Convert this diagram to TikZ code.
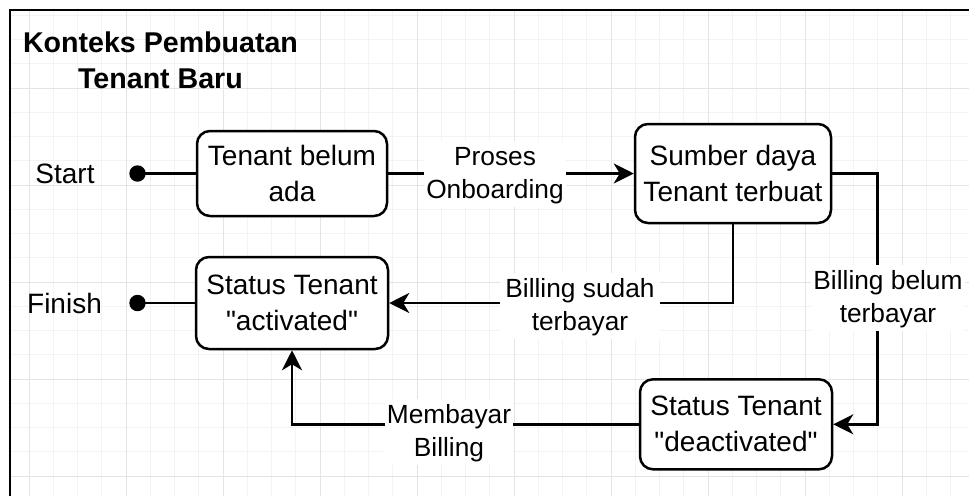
\documentclass[tikz,border=0pt]{standalone}
\usepackage{fontspec}
\setmainfont{Liberation Sans}
\usetikzlibrary{arrows.meta}
\definecolor{gridminor}{RGB}{243,243,243}
\definecolor{gridmajor}{RGB}{228,228,228}
% struts giving every text line the same height and depth
\newcommand{\boxstrut}{\rule[-8.5pt]{0pt}{36pt}}
\newcommand{\lblstrut}{\rule[-8.5pt]{0pt}{33pt}}
% straight double quote, set as a glyph so no ligature mapping curls it
\newcommand{\sq}{\XeTeXglyph\XeTeXcharglyph"22\relax}

\begin{document}
\begin{tikzpicture}[x=1pt,y=-1pt,
  state/.style={draw, line width=2.5pt, rounded corners=13pt, fill=white,
    inner sep=0pt, align=center, font=\fontsize{28}{36}\selectfont},
  lbl/.style={fill=white, inner xsep=2pt, inner ysep=0pt, align=center,
    font=\fontsize{26.3}{33}\selectfont},
  conn/.style={line width=2.5pt},
  arr/.style={conn, -{Stealth[length=20pt,width=20pt,inset=6pt]}},
  dot/.style={circle, fill=black, inner sep=0pt, minimum size=16.4pt},
  plain/.style={font=\fontsize{28}{36}\selectfont, inner sep=0pt},
  heading/.style={font=\bfseries\fontsize{28.6}{36}\selectfont, align=center, inner sep=0pt}
]
\useasboundingbox (0,0) rectangle (969,496);
\fill[white] (0,0) rectangle (969,496);

% background grid inside the frame
\begin{scope}
  \clip (9,10) rectangle (969,496);
  \foreach \i in {0,...,39}
    \draw[gridminor, line width=1pt] ({29+24.25*\i},10) -- ({29+24.25*\i},496);
  \foreach \i in {0,...,20}
    \draw[gridminor, line width=1pt] (9,{15.25+24.25*\i}) -- (969,{15.25+24.25*\i});
  \foreach \i in {0,...,9}
    \draw[gridmajor, line width=1pt] ({29+97*\i},10) -- ({29+97*\i},496);
  \foreach \i in {0,...,4}
    \draw[gridmajor, line width=1pt] (9,{88+97*\i}) -- (969,{88+97*\i});
\end{scope}

% frame
\draw[line width=2pt] (9.7,496) -- (9.7,10) -- (969,10);

% title
\node[heading] (title) at (160.5,60.5) {\boxstrut Konteks Pembuatan\\\boxstrut Tenant Baru};

% states
\node[state, minimum width=190pt, minimum height=85pt] (A) at (292,173.5)
  {\boxstrut Tenant belum\\\boxstrut ada};
\node[state, minimum width=196pt, minimum height=99pt] (B) at (733,173.5)
  {\boxstrut Sumber daya\\\boxstrut Tenant terbuat};
\node[state, minimum width=192pt, minimum height=92pt] (C) at (292,303)
  {\boxstrut Status Tenant\\\boxstrut \sq activated\sq};
\node[state, minimum width=192pt, minimum height=90pt] (D) at (736,424.3)
  {\boxstrut Status Tenant\\\boxstrut \sq deactivated\sq};

% start and finish
\node[dot] (s) at (137.5,173.5) {};
\node[dot] (f) at (137.5,303) {};
\node[plain, anchor=base] (st) at (65,183) {Start};
\node[plain, anchor=base] (fi) at (64.5,313.3) {Finish};

\draw[conn] (s.center) -- (A.west);
\draw[conn] (f.center) -- (C.west);

% transitions
\coordinate (r) at (877.5,173.5);
\draw[arr] (A.east) -- (B.west);
\draw[arr] (B.south) |- (C.east);
\draw[arr] (B.east) -- (r) |- (D.east);
\draw[arr] (D.west) -| (C.south);

% transition labels
\node[lbl] (l1) at (495,173.5) {\lblstrut Proses\\\lblstrut Onboarding};
\node[lbl, inner xsep=5pt] (l2) at (580,305.8) {\lblstrut Billing sudah\\\lblstrut terbayar};
\node[lbl] (l3) at (888,298.3) {\lblstrut Billing belum\\\lblstrut terbayar};
\node[lbl] (l4) at (449,431.8) {\lblstrut Membayar\\\lblstrut Billing};
\end{tikzpicture}
\end{document}
